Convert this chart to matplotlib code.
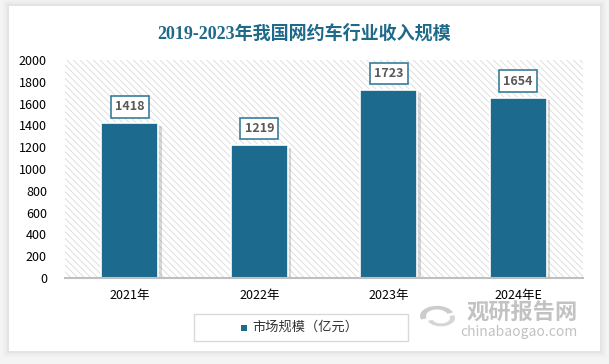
import matplotlib
matplotlib.use("Agg")
import matplotlib.pyplot as plt
from matplotlib.patches import Rectangle, Wedge
import matplotlib.patheffects as pe

plt.rcParams['font.family'] = ['Noto Sans CJK SC', 'DejaVu Sans']
plt.rcParams['hatch.linewidth'] = 0.6

# 数据
years = ['2021年', '2022年', '2023年', '2024年E']
revenue = [1418, 1219, 1723, 1654]
title = '2019-2023年我国网约车行业收入规模'
legend_label = '市场规模（亿元）'
yticks = [0, 200, 400, 600, 800, 1000, 1200, 1400, 1600, 1800, 2000]

bar_color = '#1C6A8E'
title_color = '#1F6A8A'

fig = plt.figure(figsize=(6.09, 3.64), dpi=100)
fig.patch.set_facecolor('#f4f4f4')

# 卡片阴影 + 白色卡片
W, H = 609.0, 364.0
for k, a in [(6, 0.05), (4, 0.07), (2, 0.10)]:
    fig.patches.append(Rectangle(((9 - k) / W, (13 - k) / H), (591 + 2 * k) / W, (345 + 2 * k) / H,
                                 transform=fig.transFigure, facecolor='#b0b0b0', edgecolor='none',
                                 alpha=a, zorder=0))
fig.patches.append(Rectangle((9 / W, 13 / H), 591 / W, 345 / H, transform=fig.transFigure,
                             facecolor='white', edgecolor='none', zorder=1))

ax = fig.add_axes([65 / W, 1 - 278 / H, 518 / W, 218 / H])
ax.set_facecolor('none')
ax.set_zorder(2)

x = list(range(len(years)))
ax.set_xlim(-0.5, len(years) - 0.5)
ax.set_ylim(0, 2000)

# 背景斜线
bg = Rectangle((0, 0), 1, 1, transform=ax.transAxes, facecolor='white',
               edgecolor='#d9d9d9', hatch='\\' * 5, linewidth=0, zorder=0)
ax.add_patch(bg)

bars = ax.bar(x, revenue, width=0.44, color=bar_color, edgecolor='white', linewidth=1.2, zorder=3)
for b in bars:
    b.set_path_effects([pe.SimplePatchShadow(offset=(2.5, -2), shadow_rgbFace='#808080', alpha=0.3),
                        pe.Normal()])

for xi, v in zip(x, revenue):
    ax.annotate(str(v), (xi, v), xytext=(0, 12), textcoords='offset points',
                ha='center', va='center', fontsize=9, fontweight='bold', color='#595959',
                bbox=dict(boxstyle='square,pad=0.35', facecolor='white', edgecolor='#3a7d9c', linewidth=1.2),
                zorder=5)

ax.set_yticks(yticks)
ax.set_xticks(x)
ax.set_xticklabels(years)
ax.tick_params(axis='both', length=0, labelsize=9, colors='black')
ax.tick_params(axis='y', pad=13)
ax.tick_params(axis='x', pad=8)
for s in ['top', 'right', 'left']:
    ax.spines[s].set_visible(False)
ax.spines['bottom'].set_color('#bfbfbf')
ax.spines['bottom'].set_linewidth(1.5)
ax.spines['bottom'].set_zorder(4)

fig.text(304 / W, 1 - 33 / H, title, ha='center', va='center', fontsize=13, fontweight='bold',
         color=title_color, family=['Liberation Serif', 'Noto Sans CJK SC'], zorder=5)

# 图例
fig.patches.append(Rectangle((194 / W, 1 - 341 / H), 214 / W, 27 / H, transform=fig.transFigure,
                             facecolor='white', edgecolor='#d9d9d9', linewidth=1, zorder=3))
fig.patches.append(Rectangle((241 / W, 1 - 331 / H), 6 / W, 6 / H, transform=fig.transFigure,
                             facecolor=bar_color, edgecolor='none', zorder=4))
fig.text(252 / W, 1 - 327.5 / H, legend_label, ha='left', va='center', fontsize=9.5, color='#333333', zorder=5)

# 水印
wm = '#9a9a9a'
fig.patches.append(Wedge((437 / W, 1 - 316 / H), 17 / W, 20, 200, width=6 / W,
                         transform=fig.transFigure, facecolor=wm, alpha=0.5, edgecolor='none', zorder=6))
fig.patches.append(Wedge((441 / W, 1 - 318 / H), 14 / W, 200, 380, width=5 / W,
                         transform=fig.transFigure, facecolor=wm, alpha=0.4, edgecolor='none', zorder=6))
fig.text(522 / W, 1 - 313 / H, '观研报告网', ha='center', va='center', fontsize=16, fontweight='bold',
         color=wm, alpha=0.6, zorder=6)
fig.text(519 / W, 1 - 332 / H, 'chinabaogao.com', ha='center', va='center', fontsize=10,
         color=wm, alpha=0.6, zorder=6)

fig.savefig('out.png', dpi=100, facecolor=fig.get_facecolor())
